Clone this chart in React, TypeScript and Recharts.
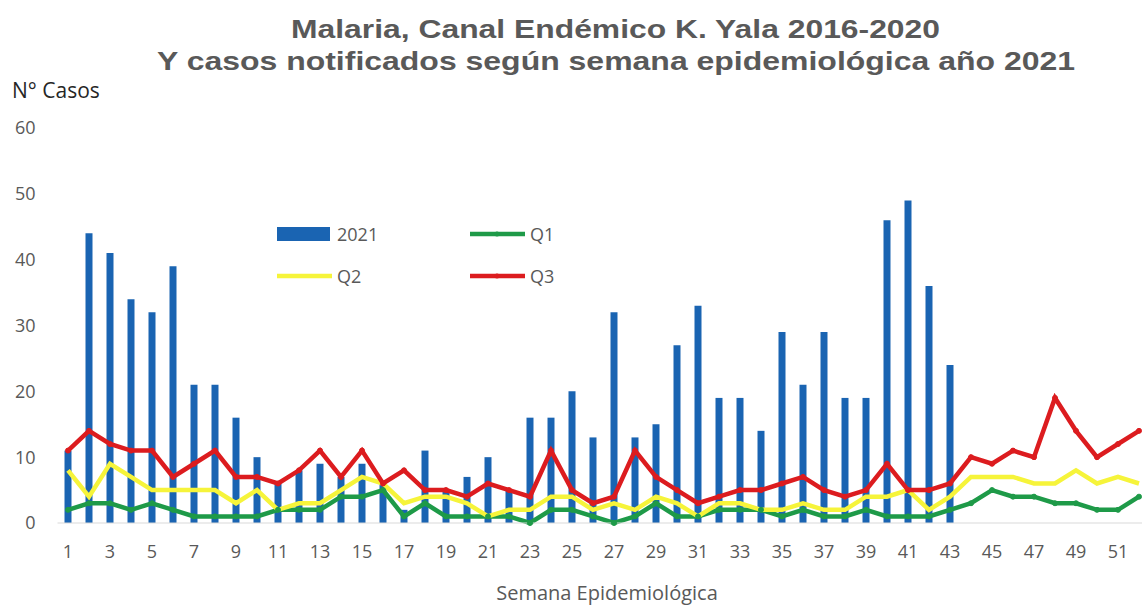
import React from "react"
import { Bar, ComposedChart, Line, XAxis, YAxis } from "recharts"

const weeks = [
  1, 2, 3, 4, 5, 6, 7, 8, 9, 10, 11, 12, 13, 14, 15, 16, 17, 18, 19, 20, 21, 22, 23, 24, 25, 26,
  27, 28, 29, 30, 31, 32, 33, 34, 35, 36, 37, 38, 39, 40, 41, 42, 43, 44, 45, 46, 47, 48, 49, 50, 51, 52,
]

// casos notificados 2021 (hasta semana 43)
const casos2021 = [
  11, 44, 41, 34, 32, 39, 21, 21, 16, 10, 6, 8, 9, 7, 9, 6, 2, 11, 5, 7, 10, 5, 16, 16, 20, 13,
  32, 13, 15, 27, 33, 19, 19, 14, 29, 21, 29, 19, 19, 46, 49, 36, 24,
]

const q1 = [
  2, 3, 3, 2, 3, 2, 1, 1, 1, 1, 2, 2, 2, 4, 4, 5, 1, 3, 1, 1, 1, 1, 0, 2, 2, 1,
  0, 1, 3, 1, 1, 2, 2, 2, 1, 2, 1, 1, 2, 1, 1, 1, 2, 3, 5, 4, 4, 3, 3, 2, 2, 4,
]

const q2 = [
  8, 4, 9, 7, 5, 5, 5, 5, 3, 5, 2, 3, 3, 5, 7, 6, 3, 4, 4, 3, 1, 2, 2, 4, 4, 2,
  3, 2, 4, 3, 1, 3, 3, 2, 2, 3, 2, 2, 4, 4, 5, 2, 4, 7, 7, 7, 6, 6, 8, 6, 7, 6,
]

const q3 = [
  11, 14, 12, 11, 11, 7, 9, 11, 7, 7, 6, 8, 11, 7, 11, 6, 8, 5, 5, 4, 6, 5, 4, 11, 5, 3,
  4, 11, 7, 5, 3, 4, 5, 5, 6, 7, 5, 4, 5, 9, 5, 5, 6, 10, 9, 11, 10, 19, 14, 10, 12, 14,
]

const yTicks = [0, 10, 20, 30, 40, 50, 60]

const data = weeks.map((w, i) => ({
  semana: w,
  c2021: i < casos2021.length ? casos2021[i] : null,
  q1: q1[i],
  q2: q2[i],
  q3: q3[i],
}))

const BLUE = "#1a64b2"
const GREEN = "#1e9a48"
const YELLOW = "#f6f43a"
const RED = "#dc1c1f"
const GREY = "#595959"

function LegendBox() {
  const item = (swatch: React.ReactNode, label: string) => (
    <div style={{ display: "flex", alignItems: "center", width: 193, height: 42 }}>
      <svg width={56} height={14}>{swatch}</svg>
      <span style={{ marginLeft: 4, fontSize: 18, color: GREY, fontFamily: "Open Sans" }}>{label}</span>
    </div>
  )
  const line = (c: string, dots: boolean) => (
    <g>
      <line x1={0} x2={55} y1={7} y2={7} stroke={c} strokeWidth={4.5} />
      {dots && <circle cx={27} cy={7} r={2.5} fill={c} />}
    </g>
  )
  return (
    <div style={{ position: "absolute", left: 277, top: 213, display: "flex", flexWrap: "wrap", width: 390 }}>
      {item(<rect x={0} y={0} width={53} height={14} fill={BLUE} />, "2021")}
      {item(line(GREEN, true), "Q1")}
      {item(line(YELLOW, false), "Q2")}
      {item(line(RED, true), "Q3")}
    </div>
  )
}

export default function App() {
  const titleFont = { fontFamily: "'Liberation Sans Narrow', 'Liberation Sans', Arial", fontWeight: "bold", fontSize: 26 }
  const tickStyle = { fill: GREY, fontSize: 18, fontFamily: "Open Sans" }
  return (
    <div style={{ position: "fixed", left: 0, top: 0, width: 1142, height: 607, overflow: "hidden", background: "#fff" }}>
      <svg width={1142} height={110} style={{ position: "absolute", left: 0, top: 0 }}>
        <text x={291} y={38} textLength={649} lengthAdjust="spacingAndGlyphs" fill={GREY} style={titleFont}>
          Malaria, Canal Endémico K. Yala 2016-2020
        </text>
        <text x={157} y={70} textLength={918} lengthAdjust="spacingAndGlyphs" fill={GREY} style={titleFont}>
          Y casos notificados según semana epidemiológica  año 2021
        </text>
        <text x={12} y={98} fill="#262626" style={{ fontFamily: "Open Sans", fontSize: 21 }}>
          N° Casos
        </text>
      </svg>
      <div style={{ position: "absolute", left: 0, right: 0, top: 579, textAlign: "center", paddingLeft: 72,
        fontFamily: "Open Sans", fontSize: 20, color: GREY }}>
        Semana Epidemiológica
      </div>
      <ComposedChart width={1160} height={607} data={data} barCategoryGap={0}
        margin={{ top: 128, right: 10.5, bottom: 54, left: 7.5 }}>
        <XAxis dataKey="semana" interval={1} tickLine={false} axisLine={{ stroke: "#d9d9d9" }}
          tick={tickStyle} tickMargin={16} height={30} />
        <YAxis domain={[0, 60]} ticks={yTicks} axisLine={false} tickLine={false} width={50}
          tick={tickStyle} tickMargin={16} />
        <Bar dataKey="c2021" fill={BLUE} barSize={7} isAnimationActive={false} />
        <Line dataKey="q1" stroke={GREEN} strokeWidth={4.5} dot={{ r: 2.5, fill: GREEN, stroke: GREEN, strokeWidth: 1 }}
          isAnimationActive={false} />
        <Line dataKey="q2" stroke={YELLOW} strokeWidth={4.5} dot={false} isAnimationActive={false} />
        <Line dataKey="q3" stroke={RED} strokeWidth={4.5} dot={{ r: 2.5, fill: RED, stroke: RED, strokeWidth: 1 }}
          isAnimationActive={false} />
      </ComposedChart>
      <LegendBox />
    </div>
  )
}
